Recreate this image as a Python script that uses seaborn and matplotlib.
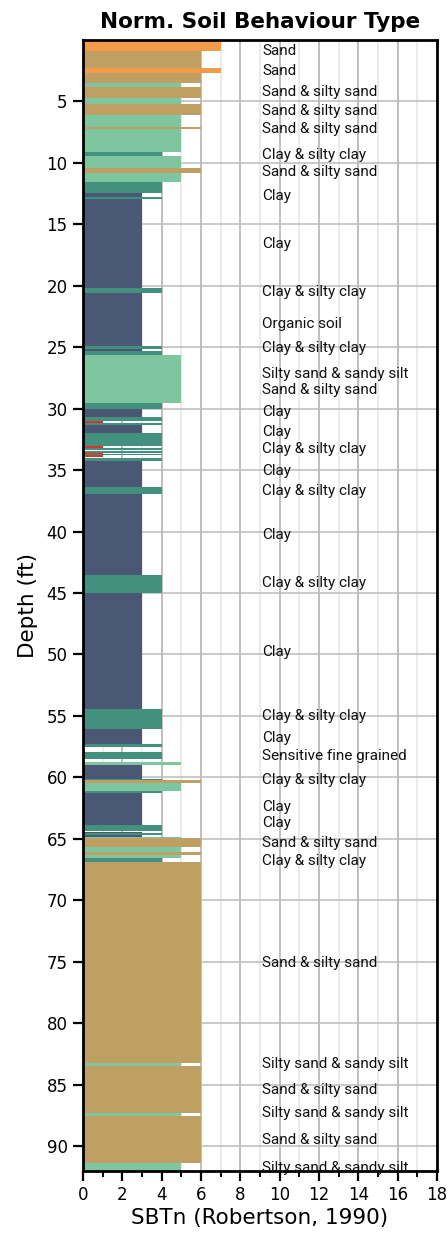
import numpy as np
import pandas as pd
import matplotlib
matplotlib.use("Agg")
import matplotlib.pyplot as plt
import seaborn as sns
from matplotlib.ticker import MultipleLocator

# ---- data: soil layers (depth in ft) and their SBTn zone ----
layer_top = [0.00, 0.90, 2.31, 2.72, 3.53, 3.80, 4.70, 5.24, 6.11, 7.08,
             7.28, 9.09, 9.42, 10.40, 10.86, 11.54, 12.46, 12.78, 12.97, 20.22,
             20.55, 24.94, 25.13, 25.27, 25.62, 29.50, 30.00, 30.69, 30.97, 31.18,
             31.32, 31.99, 33.02, 33.18, 33.43, 33.62, 33.70, 33.76, 34.02, 34.25,
             36.34, 36.93, 43.52, 45.01, 54.46, 56.06, 57.31, 57.91, 58.73, 59.00,
             60.13, 60.25, 60.43, 61.08, 61.24, 63.87, 64.42, 64.50, 64.66, 64.82,
             64.96, 65.64, 66.07, 66.29, 66.56, 66.89, 83.22, 83.46, 87.29, 87.56,
             91.36]
layer_bottom = [0.90, 2.31, 2.72, 3.53, 3.80, 4.70, 5.24, 6.11, 7.08, 7.28,
                9.09, 9.42, 10.40, 10.86, 11.54, 12.46, 12.78, 12.97, 20.22, 20.55,
                24.94, 25.13, 25.27, 25.62, 29.50, 30.00, 30.64, 30.97, 31.18, 31.32,
                31.99, 33.02, 33.18, 33.35, 33.62, 33.70, 33.76, 33.97, 34.25, 36.34,
                36.93, 43.52, 45.01, 54.46, 56.06, 57.31, 57.50, 58.50, 59.00, 60.13,
                60.25, 60.43, 61.08, 61.24, 63.87, 64.33, 64.50, 64.66, 64.82, 64.96,
                65.64, 66.07, 66.29, 66.56, 66.89, 83.22, 83.46, 87.29, 87.56, 91.36,
                92.01]
layer_zone = [7, 6, 7, 6, 5, 6, 5, 6, 5, 6,
              5, 4, 5, 6, 5, 4, 3, 4, 3, 4,
              3, 4, 3, 4, 5, 4, 3, 4, 1, 4,
              3, 4, 1, 4, 4, 1, 4, 1, 4, 3,
              4, 3, 4, 3, 4, 3, 4, 4, 5, 3,
              4, 6, 5, 4, 3, 4, 3, 4, 3, 5,
              6, 5, 6, 5, 4, 6, 5, 6, 5, 6,
              5]

zone_colors = {"1": "#E03222", "3": "#4A5775", "4": "#44907F",
               "5": "#7DC6A0", "6": "#C0A062", "7": "#F19B4B"}

label_depth = [0.93, 2.5, 4.27, 5.76, 7.25, 9.39, 10.78, 12.68, 16.6, 20.54,
               23.12, 25.07, 27.2, 28.52, 30.23, 31.86, 33.3, 35.06, 36.69, 40.27,
               44.2, 49.8, 54.98, 56.82, 58.24, 60.21, 62.38, 63.73, 65.31, 66.8,
               75.13, 83.35, 85.44, 87.34, 89.51, 91.81]
label_text = ["Sand", "Sand", "Sand & silty sand", "Sand & silty sand", "Sand & silty sand",
              "Clay & silty clay", "Sand & silty sand", "Clay", "Clay", "Clay & silty clay",
              "Organic soil", "Clay & silty clay", "Silty sand & sandy silt", "Sand & silty sand",
              "Clay", "Clay", "Clay & silty clay", "Clay", "Clay & silty clay", "Clay",
              "Clay & silty clay", "Clay", "Clay & silty clay", "Clay", "Sensitive fine grained",
              "Clay & silty clay", "Clay", "Clay", "Sand & silty sand", "Clay & silty clay",
              "Sand & silty sand", "Silty sand & sandy silt", "Sand & silty sand",
              "Silty sand & sandy silt", "Sand & silty sand", "Silty sand & sandy silt"]

x_ticks = list(range(0, 19, 2))
y_ticks = list(range(5, 91, 5))
x_max = 18
max_depth = 92.03

sns.set_theme(style="white")
plt.rcParams["font.family"] = ["DejaVu Sans"]
plt.rcParams["text.color"] = "black"
plt.rcParams["axes.labelcolor"] = "black"
plt.rcParams["xtick.color"] = "black"
plt.rcParams["ytick.color"] = "black"

df = pd.DataFrame({"top": layer_top, "bottom": layer_bottom, "zone": layer_zone})
df["mid"] = (df["top"] + df["bottom"]) / 2
df["soil"] = df["zone"].astype(str)
edges = sorted(set(layer_top) | set(layer_bottom))

fig = plt.figure(figsize=(4.48, 12.34), dpi=100)
ax = fig.add_axes([83 / 448, 1 - 1171 / 1234, (437 - 83) / 448, (1171 - 40) / 1234])

sns.histplot(data=df, y="mid", weights="zone", bins=edges, hue="soil",
             palette=zone_colors, multiple="layer", element="bars", fill=True,
             alpha=1, linewidth=0, legend=False, ax=ax)

ax.set_xlim(0, x_max)
ax.set_ylim(max_depth, 0)
ax.set_xticks(x_ticks)
ax.set_yticks(y_ticks)
ax.xaxis.set_minor_locator(MultipleLocator(1))
ax.set_axisbelow(True)
ax.grid(which="major", axis="x", color="#adadad", lw=1.1)
ax.grid(which="minor", axis="x", color="#e6e6e6", lw=1.1)
ax.grid(which="major", axis="y", color="#bcbcbc", lw=1.1)

for s in ax.spines.values():
    s.set_color("black")
    s.set_linewidth(2)

ax.tick_params(axis="both", which="major", direction="out", length=7, width=1.6,
               color="black", labelcolor="black", labelsize=12, pad=4,
               left=True, bottom=True)
ax.tick_params(axis="x", which="minor", direction="out", length=4, width=1.4,
               color="black", bottom=True)

for d, t in zip(label_depth, label_text):
    ax.text(9.1, d, t, va="center", ha="left", fontsize=11, color="#111111",
            family=["Liberation Sans Narrow", "Roboto", "DejaVu Sans"], clip_on=False)

ax.set_title("Norm. Soil Behaviour Type", fontweight="bold", fontsize=15.5,
             pad=9, color="black")
ax.set_ylabel("Depth (ft)", fontsize=15.5, labelpad=6, color="black")
ax.set_xlabel("SBTn (Robertson, 1990)", fontsize=15.5, labelpad=3, color="black")

fig.savefig("out.png", dpi=100)
